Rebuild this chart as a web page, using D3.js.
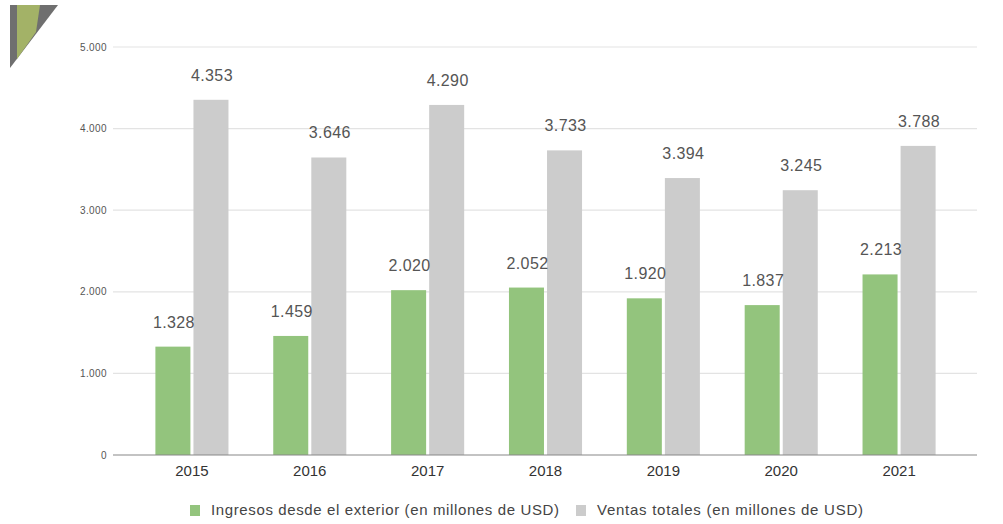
<!DOCTYPE html>
<html>
<head>
<meta charset="utf-8">
<script src="https://cdn.jsdelivr.net/npm/d3@7"></script>
<style>
  html, body { margin: 0; padding: 0; background: #fff; }
  text { font-family: "Liberation Sans", Arial, sans-serif; }
</style>
</head>
<body>
<div id="chart"></div>
<script>
const width = 1003;
const height = 524;

const years = ["2015", "2016", "2017", "2018", "2019", "2020", "2021"];
const ingresos = [1328, 1459, 2020, 2052, 1920, 1837, 2213];
const ventas = [4353, 3646, 4290, 3733, 3394, 3245, 3788];
const seriesNames = ["Ingresos desde el exterior (en millones de USD)", "Ventas totales (en millones de USD)"];
const seriesColors = ["#93c47d", "#cccccc"];
const yTicks = [0, 1000, 2000, 3000, 4000, 5000];

const fmt = d3.formatLocale({ decimal: ",", thousands: ".", grouping: [3], currency: ["", ""] }).format(",.0f");

const rows = years.map((y, i) => ({ year: y, values: [ingresos[i], ventas[i]] }));

const svg = d3.select("#chart")
    .append("svg")
    .attr("width", width)
    .attr("height", height);

// corner decoration
svg.append("path")
    .attr("d", "M10,5 L58,5 L10,68 Z")
    .attr("fill", "#6f6f6f");
svg.append("path")
    .attr("d", "M17,5 L40,5 L36,32 L17,59 Z")
    .attr("fill", "#a3b267");

const y = d3.scaleLinear().domain([0, 5000]).range([455, 47]);

const x0 = d3.scaleBand()
    .domain(years)
    .range([133, 958])
    .paddingInner(0.38)
    .paddingOuter(0.19);

const x1 = d3.scaleBand()
    .domain([0, 1])
    .range([0, x0.bandwidth()])
    .paddingInner(0.08);

// gridlines
svg.append("g")
    .selectAll("line")
    .data(yTicks.filter(d => d > 0))
    .enter().append("line")
    .attr("x1", 113)
    .attr("x2", 977)
    .attr("y1", d => y(d))
    .attr("y2", d => y(d))
    .attr("stroke", "#e3e3e3")
    .attr("stroke-width", 1.2);

// y tick labels
svg.append("g")
    .selectAll("text")
    .data(yTicks)
    .enter().append("text")
    .attr("x", 107)
    .attr("y", d => y(d))
    .attr("dy", "0.35em")
    .attr("text-anchor", "end")
    .attr("font-size", "10px")
    .attr("letter-spacing", "0.4px")
    .attr("fill", "#555")
    .text(d => fmt(d));

// bars
const groups = svg.append("g")
    .selectAll("g")
    .data(rows)
    .enter().append("g")
    .attr("transform", d => `translate(${x0(d.year)},0)`);

groups.selectAll("rect")
    .data(d => d.values)
    .enter().append("rect")
    .attr("x", (d, i) => x1(i))
    .attr("y", d => y(d))
    .attr("width", x1.bandwidth())
    .attr("height", d => y(0) - y(d))
    .attr("fill", (d, i) => seriesColors[i]);

groups.selectAll("text.val")
    .data(d => d.values)
    .enter().append("text")
    .attr("class", "val")
    .attr("x", (d, i) => x1(i) + x1.bandwidth() / 2 + 1)
    .attr("y", d => y(d) - 19)
    .attr("text-anchor", "middle")
    .attr("font-size", "16px")
    .attr("letter-spacing", "0.4px")
    .attr("fill", "#555")
    .text(d => fmt(d));

// baseline
svg.append("line")
    .attr("x1", 113)
    .attr("x2", 977)
    .attr("y1", y(0))
    .attr("y2", y(0))
    .attr("stroke", "#888")
    .attr("stroke-width", 1.2);

// x labels
svg.append("g")
    .selectAll("text")
    .data(years)
    .enter().append("text")
    .attr("x", d => x0(d) + x0.bandwidth() / 2)
    .attr("y", 476)
    .attr("text-anchor", "middle")
    .attr("font-size", "15px")
    .attr("fill", "#333")
    .text(d => d);

// legend
const legend = svg.append("g");
const legendX = [190, 576];
const legendLen = [348, 266];
seriesNames.forEach((name, i) => {
    legend.append("rect")
        .attr("x", legendX[i])
        .attr("y", 505)
        .attr("width", 10)
        .attr("height", 11)
        .attr("fill", seriesColors[i]);
    legend.append("text")
        .attr("x", legendX[i] + 21)
        .attr("y", 515)
        .attr("font-size", "15px")
        .attr("fill", "#444")
        .attr("textLength", legendLen[i])
        .attr("lengthAdjust", "spacing")
        .text(name);
});
</script>
</body>
</html>
